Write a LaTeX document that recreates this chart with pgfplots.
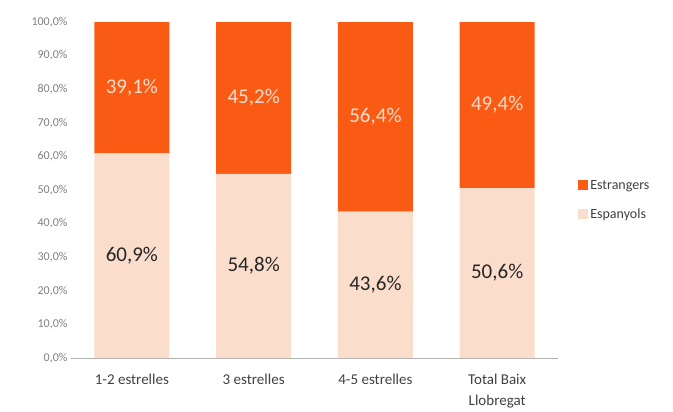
\documentclass[border=0pt]{standalone}
\usepackage{pgfplots}
\pgfplotsset{compat=1.18}
\usepackage{fontspec}
\setmainfont{Carlito}

\definecolor{estr}{HTML}{F95A14}
\definecolor{esp}{HTML}{FBDDCC}
\definecolor{tickgray}{HTML}{7F7F7F}
\definecolor{txt}{HTML}{404040}

\pgfplotsset{
  base/.style={
    scale only axis,
    width=487pt,
    height=336pt,
    xmin=-0.5, xmax=3.5,
    ymin=0, ymax=100,
    clip=false,
  },
}

\begin{document}
\begin{tikzpicture}
\begin{axis}[
    base,
    ybar stacked,
    bar width=75pt,
    xtick=data,
    xticklabels={1-2 estrelles, 3 estrelles, 4-5 estrelles, {Total Baix\\Llobregat}},
    xticklabel style={font=\fontsize{15}{21}\selectfont, text=txt, align=center, anchor=north, yshift=-13pt},
    ytick={0,10,...,100},
    yticklabel={\pgfmathprintnumber[fixed,fixed zerofill,precision=1,use comma]{\tick}\%},
    yticklabel style={font=\fontsize{12}{14}\selectfont, text=tickgray},
    /pgf/number format/assume math mode=true,
    separate axis lines,
    axis x line*=bottom,
    axis y line*=left,
    y axis line style={draw=none},
    x axis line style={draw=gray!60, -},
    tick style={draw=none},
    reverse legend,
    legend style={at={(rel axis cs:1.035,0.47)}, anchor=west, draw=none, fill=none,
        font=\fontsize{14}{17}\selectfont, text=txt, row sep=14pt},
    legend cell align=left,
    legend image code/.code={\fill[#1] (0pt,-5pt) rectangle (10pt,5pt);},
]
\addplot[fill=esp, draw=none] coordinates
{(0,60.9) (1,54.8) (2,43.6) (3,50.6)};
\addplot[fill=estr, draw=none] coordinates
{(0,39.1) (1,45.2) (2,56.4) (3,49.4)};
\legend{Espanyols, Estrangers}
\path (rel axis cs:-0.1458,-0.1518) rectangle (rel axis cs:1.236,1.0655);
\end{axis}
% value labels, centred in each segment
\begin{axis}[
    base,
    hide axis,
    nodes near coords,
    point meta=explicit symbolic,
    every node near coord/.append style={anchor=center, font=\fontsize{21}{25}\selectfont},
]
\addplot[draw=none, mark=none, every node near coord/.append style={text=black!85}]
  table[meta=lab] {
x y lab
0 30.45 60,9\%
1 27.4 54,8\%
2 21.8 43,6\%
3 25.3 50,6\%
};
\addplot[draw=none, mark=none, every node near coord/.append style={text=esp}]
  table[meta=lab] {
x y lab
0 80.45 39,1\%
1 77.4 45,2\%
2 71.8 56,4\%
3 75.3 49,4\%
};
\end{axis}
\end{tikzpicture}
\end{document}
